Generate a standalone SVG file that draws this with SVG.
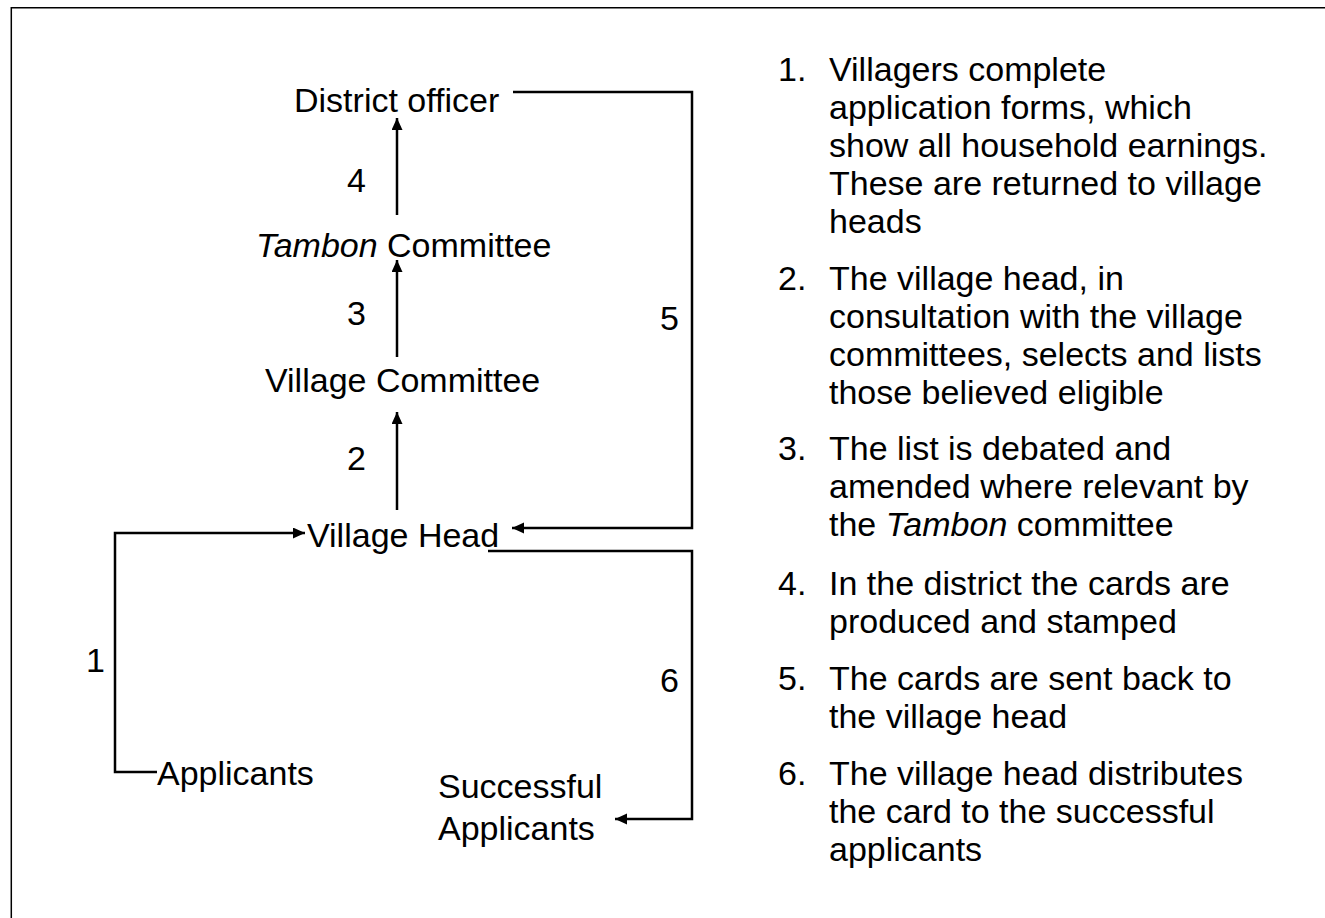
<svg xmlns="http://www.w3.org/2000/svg" width="1325" height="918" viewBox="0 0 1325 918">
<style>
text{font-family:"Liberation Sans",Arial,sans-serif;font-size:34px;fill:#000}
.it{font-style:italic}
.con{fill:none;stroke:#000;stroke-width:2.5}
.frame{fill:none;stroke:#000;stroke-width:1.5}
</style>
<defs>
<marker id="ah" markerUnits="userSpaceOnUse" markerWidth="14" markerHeight="14" refX="12" refY="5.5" orient="auto">
<path d="M0,0 L12,5.5 L0,11 Z" fill="#000"/>
</marker>
</defs>
<rect width="1325" height="918" fill="#fff"/>
<path class="frame" d="M11.3,918 V7.7 H1325"/>

<g id="connectors">
<path class="con" d="M397,215 V118" marker-end="url(#ah)"/>
<path class="con" d="M397,357 V260" marker-end="url(#ah)"/>
<path class="con" d="M397,510 V412" marker-end="url(#ah)"/>
<path class="con" d="M157,772 H115 V533 H305" marker-end="url(#ah)"/>
<path class="con" d="M513,92 H692 V528 H512" marker-end="url(#ah)"/>
<path class="con" d="M488,551 H692 V819 H615" marker-end="url(#ah)"/>
<text x="347" y="192">4</text>
<text x="347" y="325">3</text>
<text x="347" y="470">2</text>
<text x="86" y="672">1</text>
<text x="660" y="330">5</text>
<text x="660" y="692">6</text>
</g>

<g id="node-district"><text x="294" y="112">District officer</text></g>
<g id="node-tambon"><text x="256" y="257"><tspan class="it">Tambon</tspan> Committee</text></g>
<g id="node-village-committee"><text x="265" y="392">Village Committee</text></g>
<g id="node-village-head"><text x="307" y="547">Village Head</text></g>
<g id="node-applicants"><text x="157" y="785">Applicants</text></g>
<g id="node-successful"><text x="438" y="798">Successful</text><text x="438" y="840">Applicants</text></g>

<g id="legend">
<text x="778" y="81">1.</text>
<text x="829" y="81">Villagers complete</text>
<text x="829" y="119">application forms, which</text>
<text x="829" y="157">show all household earnings.</text>
<text x="829" y="195">These are returned to village</text>
<text x="829" y="233">heads</text>
<text x="778" y="290">2.</text>
<text x="829" y="290">The village head, in</text>
<text x="829" y="328">consultation with the village</text>
<text x="829" y="366">committees, selects and lists</text>
<text x="829" y="404">those believed eligible</text>
<text x="778" y="460">3.</text>
<text x="829" y="460">The list is debated and</text>
<text x="829" y="498">amended where relevant by</text>
<text x="829" y="536">the <tspan class="it">Tambon</tspan> committee</text>
<text x="778" y="595">4.</text>
<text x="829" y="595">In the district the cards are</text>
<text x="829" y="633">produced and stamped</text>
<text x="778" y="690">5.</text>
<text x="829" y="690">The cards are sent back to</text>
<text x="829" y="728">the village head</text>
<text x="778" y="785">6.</text>
<text x="829" y="785">The village head distributes</text>
<text x="829" y="823">the card to the successful</text>
<text x="829" y="861">applicants</text>
</g>
</svg>
